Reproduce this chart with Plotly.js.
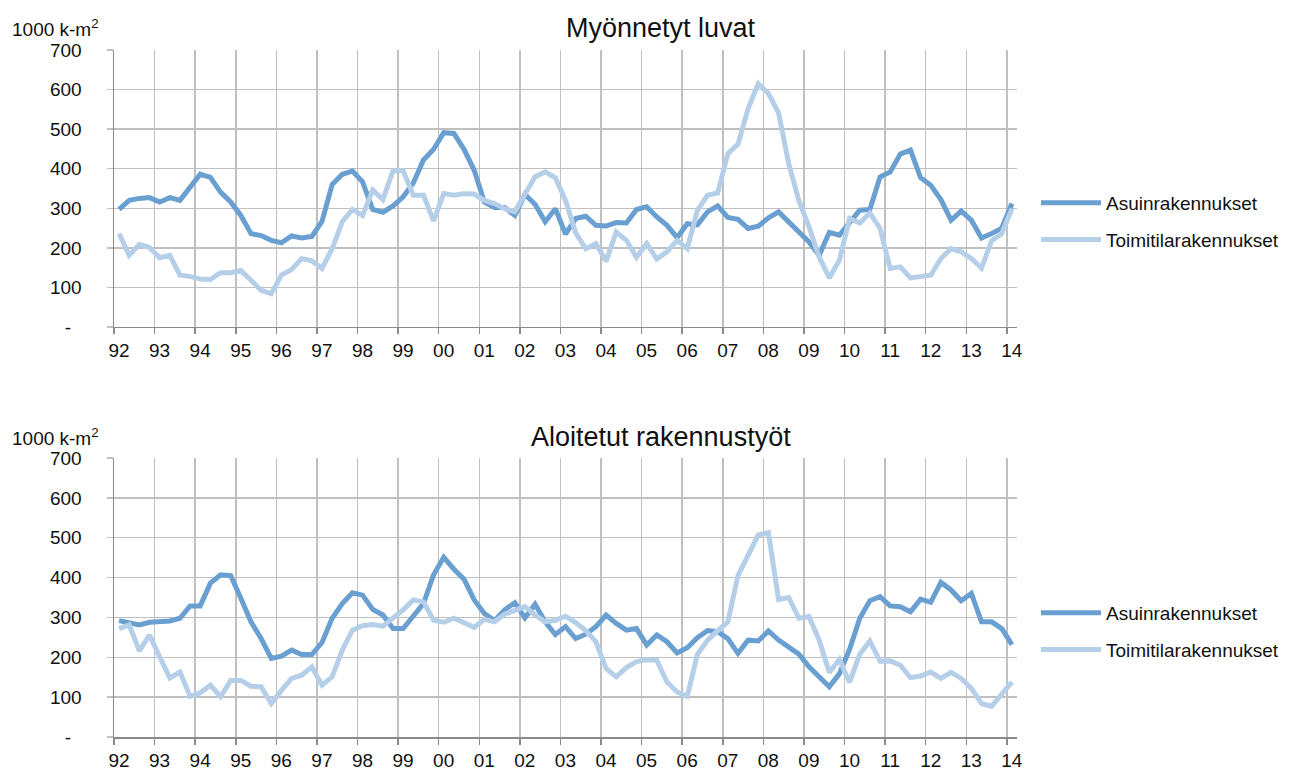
<!DOCTYPE html>
<html>
<head>
<meta charset="utf-8">
<script src="https://cdn.plot.ly/plotly-3.0.1.min.js"></script>
<style>html,body{margin:0;padding:0;background:#fff;}#chart{width:1301px;height:770px;}</style>
</head>
<body>
<div id="chart"></div>
<script>
// Quarterly data 1992Q1 .. 2014Q1 (89 quarters), 1000 k-m2
const yearLabels = ['92','93','94','95','96','97','98','99','00','01','02','03','04','05','06','07','08','09','10','11','12','13','14'];
const quartersPerYear = 4;
const nQuarters = 89;

const seriesNames = ['Asuinrakennukset', 'Toimitilarakennukset'];
const panelTitles = ['Myönnetyt luvat', 'Aloitetut rakennustyöt'];
const yTickVals = [0,100,200,300,400,500,600,700];
const yTickText = ['-\u00a0\u00a0','100','200','300','400','500','600','700'];

// Myönnetyt luvat
const permitsResidential = [297,320,325,327,316,327,320,354,386,378,341,316,282,236,231,219,213,230,225,229,267,360,386,394,367,297,290,306,329,364,422,449,491,
  489,449,396,316,302,302,282,335,310,266,299,235,274,280,257,255,264,263,297,304,278,257,226,261,258,291,306,277,272,249,255,276,291,265,242,
  215,181,239,232,266,295,297,379,392,437,447,377,358,322,270,293,270,225,236,250,312];
const permitsCommercial = [236,181,209,201,175,181,131,128,121,120,137,137,143,120,93,84,131,145,173,167,148,198,266,297,282,346,322,395,395,333,333,268,337,
  333,337,336,320,312,299,291,335,380,392,377,320,238,198,211,166,240,219,176,211,172,190,219,198,295,333,339,438,462,552,615,590,541,413,320,
  253,177,124,169,274,263,288,249,148,152,124,128,131,173,198,190,173,149,218,236,299];

// Aloitetut rakennustyöt
const startsResidential = [292,288,281,288,291,291,298,329,329,386,407,405,348,289,247,197,203,218,207,207,237,298,335,362,356,320,306,272,272,302,335,407,451,
  421,396,344,310,292,319,337,299,333,289,257,277,247,258,277,306,285,268,272,231,256,239,211,224,249,267,264,247,210,243,241,266,243,226,208,
  176,151,126,159,220,298,342,352,329,327,314,346,338,388,369,342,360,289,289,272,232];
const startsCommercial = [272,281,216,256,201,148,163,102,111,130,101,142,142,127,126,84,117,147,155,176,130,151,218,268,279,282,278,298,319,344,339,293,288,
  298,285,275,295,289,308,316,327,306,289,293,303,287,267,239,172,151,174,189,194,193,138,113,102,207,243,267,289,405,453,507,513,345,350,298,
  302,243,162,195,137,208,241,190,191,180,149,153,163,147,162,147,122,84,77,109,138];

const xIdx = Array.from({length: nQuarters}, (_, i) => i);
const xBoundaries = yearLabels.map((_, k) => k * quartersPerYear - 0.5);

const darkBlue = '#6a9fd2';
const lightBlue = '#b6cfe9';
const gridCol = '#c0c0c0';
const axisCol = '#8a8a8a';
const fontFam = 'Liberation Sans, Arial, sans-serif';

function tr(y, name, color, xa, ya, leg, grp) {
  return {x: xIdx, y: y, name: name, type: 'scatter', mode: 'lines',
    line: {color: color, width: 5}, xaxis: xa, yaxis: ya, legend: leg, legendgroup: grp,
    hoverinfo: 'skip'};
}

const data = [
  tr(permitsResidential, seriesNames[0], darkBlue, 'x', 'y', 'legend', 'a'),
  tr(permitsCommercial, seriesNames[1], lightBlue, 'x', 'y', 'legend', 'b'),
  tr(startsResidential, seriesNames[0], darkBlue, 'x2', 'y2', 'legend2', 'c'),
  tr(startsCommercial, seriesNames[1], lightBlue, 'x2', 'y2', 'legend2', 'd')
];

function xax(anchor) {
  return {anchor: anchor, domain: [0, 1], range: [-0.5, nQuarters - 0.5], tickmode: 'array',
    tickvals: xBoundaries, ticktext: yearLabels, ticklabelshift: 5,
    showgrid: true, gridcolor: gridCol, gridwidth: 1.5, zeroline: false,
    showline: true, linecolor: axisCol, linewidth: 1.5,
    ticks: 'outside', ticklen: 6, tickcolor: axisCol, tickwidth: 1.5,
    tickfont: {family: fontFam, size: 19, color: '#111'}, fixedrange: true};
}
function yax(anchor, domain) {
  return {anchor: anchor, domain: domain, range: [0, 700], tickmode: 'array',
    tickvals: yTickVals, ticktext: yTickText,
    showgrid: true, gridcolor: gridCol, gridwidth: 1.5, zeroline: false,
    showline: true, linecolor: axisCol, linewidth: 1.5,
    ticks: 'outside', ticklen: 6, tickcolor: gridCol, tickwidth: 1.5,
    ticklabelstandoff: 21,
    tickfont: {family: fontFam, size: 19, color: '#111'}, fixedrange: true};
}

function legendCfg(topPx) {
  return {xref: 'container', yref: 'container', x: 1036 / 1301, y: 1 - topPx / 770,
    xanchor: 'left', yanchor: 'top', bgcolor: 'rgba(0,0,0,0)', itemwidth: 60,
    traceorder: 'grouped', tracegroupgap: 9,
    font: {family: fontFam, size: 19, color: '#111'}};
}

const layout = {
  width: 1301, height: 770,
  margin: {l: 114, r: 284, t: 50, b: 33},
  paper_bgcolor: '#ffffff', plot_bgcolor: '#ffffff',
  showlegend: true,
  xaxis: xax('y'),
  yaxis: yax('x', [0.5968, 1]),
  xaxis2: xax('y2'),
  yaxis2: yax('x2', [0, 0.4061]),
  legend: legendCfg(184),
  legend2: legendCfg(594),
  annotations: [
    {text: panelTitles[0], xref: 'paper', yref: 'paper', x: 0.6058, y: 1.032, xanchor: 'center', yanchor: 'middle', showarrow: false, font: {family: fontFam, size: 27, color: '#111'}},
    {text: panelTitles[1], xref: 'paper', yref: 'paper', x: 0.6058, y: 0.4367, xanchor: 'center', yanchor: 'middle', showarrow: false, font: {family: fontFam, size: 27, color: '#111'}},
    {text: '1000 k-m<sup>2</sup>', xref: 'paper', yref: 'paper', x: -0.1152, y: 1.032, xanchor: 'left', yanchor: 'middle', showarrow: false, font: {family: fontFam, size: 19, color: '#111'}},
    {text: '1000 k-m<sup>2</sup>', xref: 'paper', yref: 'paper', x: -0.1152, y: 0.4367, xanchor: 'left', yanchor: 'middle', showarrow: false, font: {family: fontFam, size: 19, color: '#111'}}
  ]
};

Plotly.newPlot('chart', data, layout, {displayModeBar: false, staticPlot: true});
</script>
</body>
</html>
